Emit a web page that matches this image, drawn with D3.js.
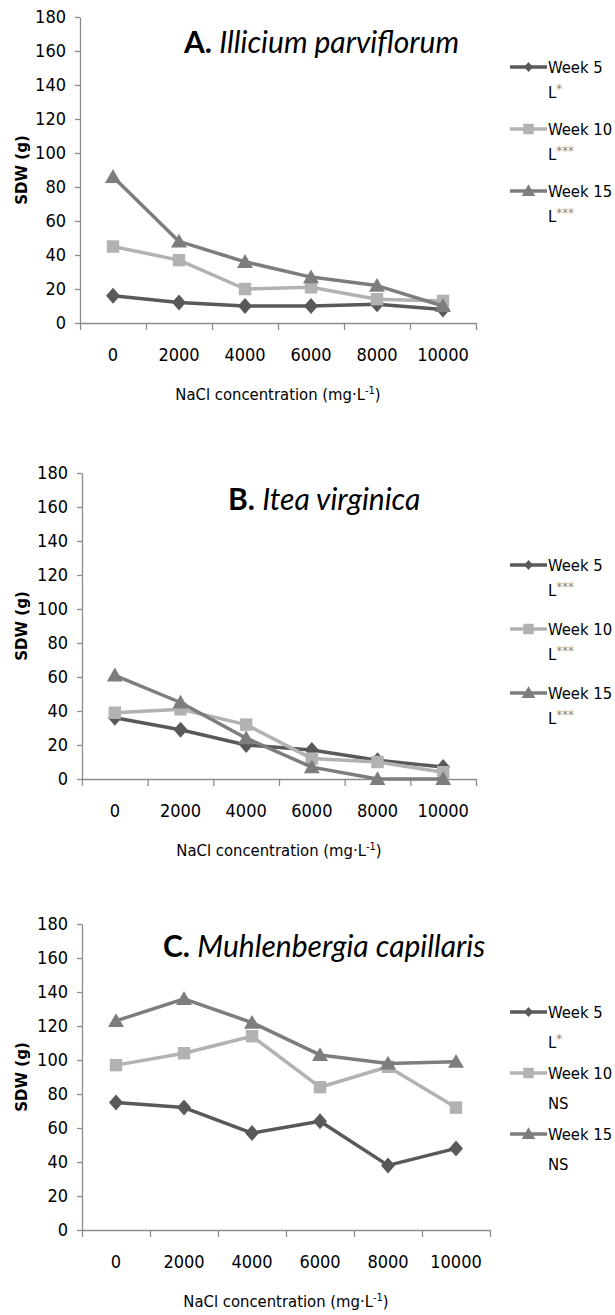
<!DOCTYPE html>
<html>
<head>
<meta charset="utf-8">
<script src="https://cdn.jsdelivr.net/npm/d3@7"></script>
<style>
  body { margin: 0; background: #fff; }
  text { font-family: "DejaVu Sans Condensed", "DejaVu Sans", sans-serif; font-stretch: condensed; fill: #000; }
</style>
</head>
<body>
<div id="chart"></div>
<script>
// data
var concentrations = ["0", "2000", "4000", "6000", "8000", "10000"]
var yTicks = [0, 20, 40, 60, 80, 100, 120, 140, 160, 180]
var weekNames = ["Week 5", "Week 10", "Week 15"]

var illicium5  = [16, 12, 10, 10, 11, 8]
var illicium10 = [45, 37, 20, 21, 14, 13]
var illicium15 = [86, 48, 36, 27, 22, 10]
var illiciumSig = ["L*", "L***", "L***"]

var itea5  = [36, 29, 20, 17, 11, 7]
var itea10 = [39, 41, 32, 12, 10, 4]
var itea15 = [61, 45, 24, 7, 0, 0]
var iteaSig = ["L***", "L***", "L***"]

var muhl5  = [75, 72, 57, 64, 38, 48]
var muhl10 = [97, 104, 114, 84, 96, 72]
var muhl15 = [123, 136, 122, 103, 98, 99]
var muhlSig = ["L*", "NS", "NS"]

var colors = ["#595959", "#b2b2b2", "#7d7d7d"]

var diamond = {
  draw: function(ctx, size){
    var w = 7, h = 8
    ctx.moveTo(0, -h); ctx.lineTo(w, 0); ctx.lineTo(0, h); ctx.lineTo(-w, 0); ctx.closePath()
  }
}
var smallDiamond = {
  draw: function(ctx, size){
    var w = 4.5, h = 5
    ctx.moveTo(0, -h); ctx.lineTo(w, 0); ctx.lineTo(0, h); ctx.lineTo(-w, 0); ctx.closePath()
  }
}
var shapes = [
  d3.symbol().type(diamond),
  d3.symbol().type(d3.symbolSquare).size(155),
  d3.symbol().type(d3.symbolTriangle).size(110)
]
var legendShapes = [
  d3.symbol().type(smallDiamond),
  d3.symbol().type(d3.symbolSquare).size(110),
  d3.symbol().type(d3.symbolTriangle).size(80)
]

var panels = [
  {letter: "A.", name: "Illicium parviflorum", series: [illicium5, illicium10, illicium15], sig: illiciumSig,
   top: 17, left: 80, right: 476, titleX: 184, titleY: 53, legendY: 67, legendStep: 62, subStep: 25},
  {letter: "B.", name: "Itea virginica", series: [itea5, itea10, itea15], sig: iteaSig,
   top: 473, left: 82, right: 476, titleX: 228, titleY: 510, legendY: 565, legendStep: 64, subStep: 25},
  {letter: "C.", name: "Muhlenbergia capillaris", series: [muhl5, muhl10, muhl15], sig: muhlSig,
   top: 924, left: 82, right: 490, titleX: 163, titleY: 957, legendY: 1012, legendStep: 61, subStep: 30}
]

var plotHeight = 306

var svg = d3.select("#chart")
  .append("svg")
  .attr("width", 615)
  .attr("height", 1315)

panels.forEach(function(p){
  var g = svg.append("g")

  var x = d3.scaleBand()
    .domain(concentrations)
    .range([p.left, p.right])

  var edges = d3.scaleLinear()
    .domain([0, concentrations.length])
    .range([p.left, p.right])

  var y = d3.scaleLinear()
    .domain([0, 180])
    .range([p.top + plotHeight, p.top])

  // y axis
  g.append("g")
    .attr("transform", "translate(" + p.left + ",0)")
    .call(d3.axisLeft(y).tickValues(yTicks).tickSize(5).tickSizeOuter(0).tickPadding(9))
    .selectAll("text").style("font-size", "18px")

  // x axis: boundary ticks, then labels centred in bands
  g.append("g")
    .attr("transform", "translate(0," + y(0) + ")")
    .call(d3.axisBottom(edges).tickValues(d3.range(concentrations.length + 1)).tickFormat("").tickSize(7).tickSizeOuter(0))
  g.append("g")
    .attr("transform", "translate(0," + y(0) + ")")
    .call(d3.axisBottom(x).tickSize(0).tickPadding(25))
    .call(function(a){ a.select(".domain").remove() })
    .selectAll("text").style("font-size", "18px")

  g.selectAll(".domain, .tick line").attr("stroke", "#8c8c8c").attr("stroke-width", 1.3)
  g.selectAll(".tick text").attr("font-family", null)

  // axis titles
  var xt = g.append("text")
    .attr("x", (p.left + p.right) / 2)
    .attr("y", y(0) + 77)
    .attr("text-anchor", "middle")
    .style("font-size", "16.5px")
  xt.append("tspan").text("NaCl concentration (mg·L")
  xt.append("tspan").attr("dy", -6).style("font-size", "11px").text("-1")
  xt.append("tspan").attr("dy", 6).text(")")

  g.append("text")
    .attr("transform", "translate(27," + y(90) + ") rotate(-90)")
    .attr("text-anchor", "middle")
    .style("font-family", "'DejaVu Sans', sans-serif")
    .style("font-stretch", "normal")
    .style("font-weight", "bold")
    .style("font-size", "15px")
    .text("SDW (g)")

  // title
  var title = g.append("text")
    .attr("x", p.titleX)
    .attr("y", p.titleY)
    .style("font-family", "'Lato', sans-serif")
    .style("font-stretch", "normal")
    .style("font-size", "30px")
  title.append("tspan").style("font-weight", "bold").text(p.letter + " ")
  title.append("tspan").style("font-style", "italic").text(p.name)

  // lines and markers
  var line = d3.line()
    .x(function(d, i){ return x(concentrations[i]) + x.bandwidth() / 2 })
    .y(function(d){ return y(d) })

  p.series.forEach(function(vals, s){
    g.append("path")
      .datum(vals)
      .attr("d", line)
      .attr("fill", "none")
      .attr("stroke", colors[s])
      .attr("stroke-width", 3.5)
      .attr("stroke-linejoin", "round")

    g.selectAll(".m" + s)
      .data(vals)
      .enter()
      .append("path")
      .attr("class", "m" + s)
      .attr("transform", function(d, i){
        var dy = s == 2 ? 1.5 : 0
        return "translate(" + (x(concentrations[i]) + x.bandwidth() / 2) + "," + (y(d) + dy) + ")"
      })
      .attr("d", shapes[s])
      .attr("fill", colors[s])
  })

  // legend
  weekNames.forEach(function(name, s){
    var ly = p.legendY + s * p.legendStep
    g.append("line")
      .attr("x1", 510).attr("x2", 547)
      .attr("y1", ly).attr("y2", ly)
      .attr("stroke", colors[s])
      .attr("stroke-width", 3.5)
    g.append("path")
      .attr("transform", "translate(528.5," + (ly + (s == 2 ? 1 : 0)) + ")")
      .attr("d", legendShapes[s])
      .attr("fill", colors[s])
    g.append("text")
      .attr("x", 548).attr("y", ly + 6)
      .style("font-size", "16.5px")
      .text(name)

    var sig = p.sig[s]
    var st = g.append("text")
      .attr("x", 548).attr("y", ly + p.subStep + 6)
      .style("font-size", "16.5px")
    if(sig == "NS"){
      st.text("NS")
    } else {
      st.append("tspan").text("L")
      st.append("tspan").attr("dy", -5).style("font-size", "13px").style("fill", "#8a8a8a").text(sig.slice(1))
    }
  })
})
</script>
</body>
</html>
